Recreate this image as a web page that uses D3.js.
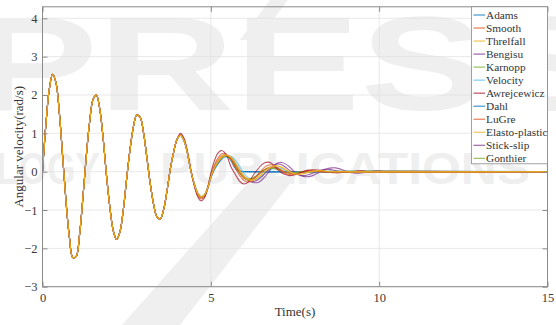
<!DOCTYPE html>
<html><head><meta charset="utf-8">
<script src="https://cdn.jsdelivr.net/npm/d3@7"></script>
<style>body{margin:0;background:#fff}svg{display:block}</style>
</head><body>
<svg id="chart" width="556" height="325"></svg>
<script>
// ---------- DATA ----------
const seriesNames = ["Adams","Smooth","Threlfall","Bengisu","Karnopp","Velocity","Awrejcewicz","Dahl","LuGre","Elasto-plastic","Stick-slip","Gonthier"];
const seriesColors = ["#0072BD","#D95319","#EDB120","#7E2F8E","#77AC30","#4DBEEE","#A2142F","#0072BD","#D95319","#EDB120","#7E2F8E","#77AC30"];
const xTicks = [0,5,10,15];
const yTicks = [-3,-2,-1,0,1,2,3,4];
const sampleStep = 0.1;   // seconds between samples
const tEnd = 15;
// shared part t = 0 .. 4.0 s (all models coincide)
const common = [0,1.22,2.14,2.54,2.32,1.54,0.38,-0.79,-1.72,-2.24,-2.21,-1.65,-0.68,0.40,1.30,1.88,2.00,1.64,0.88,-0.09,-0.92,-1.53,-1.77,-1.57,-1.00,-0.18,0.58,1.17,1.48,1.42,1.02,0.37,-0.31,-0.85,-1.18,-1.23,-0.98,-0.49,0.09,0.53,0.85];
// per-model continuation from t = 4.1 s
const adams = [0.95,0.82,0.50,0.05,-0.30,-0.55,-0.66,-0.62,-0.45,-0.15,0.06,0.20,0.32,0.40,0.42,0.38,0.24,0.08,0.01,0];
const smooth = [0.95,0.83,0.51,0.06,-0.31,-0.57,-0.68,-0.64,-0.44,-0.12,0.12,0.28,0.39,0.44,0.42,0.33,0.19,0.04,-0.09,-0.18,-0.22,-0.21,-0.16,-0.09,-0.01,0.06,0.10,0.12,0.11,0.08,0.04,0.00,-0.03,-0.05,-0.05,-0.04,-0.02,0.00,0.01,0.02,0.02,0.01,0];
const threlfall = [0.95,0.82,0.50,0.05,-0.30,-0.55,-0.66,-0.62,-0.44,-0.14,0.08,0.23,0.34,0.40,0.42,0.38,0.27,0.13,-0.01,-0.12,-0.18,-0.21,-0.20,-0.15,-0.08,0.00,0.07,0.12,0.15,0.15,0.12,0.07,0.02,-0.02,-0.05,-0.06,-0.06,-0.04,-0.02,0.00,0.01,0.02,0.02,0.01,0];
const bengisu = [0.95,0.82,0.50,0.04,-0.31,-0.56,-0.67,-0.63,-0.45,-0.15,0.07,0.22,0.33,0.40,0.41,0.36,0.25,0.11,-0.03,-0.14,-0.22,-0.27,-0.29,-0.28,-0.23,-0.14,-0.03,0.09,0.18,0.23,0.24,0.21,0.15,0.07,-0.01,-0.07,-0.11,-0.13,-0.13,-0.11,-0.07,-0.03,0.02,0.06,0.09,0.10,0.10,0.08,0.05,0.02,-0.01,-0.03,-0.04,-0.04,-0.03,-0.01,0.00,0.01,0.02,0.02,0.01,0];
const karnopp = [0.94,0.81,0.49,0.05,-0.30,-0.54,-0.65,-0.61,-0.43,-0.13,0.09,0.24,0.34,0.40,0.39,0.31,0.18,0.04,-0.08,-0.16,-0.19,-0.18,-0.13,-0.07,0.00,0.05,0.08,0.09,0.08,0.05,0.02,-0.01,-0.03,-0.03,-0.02,-0.01,0];
const velocity = [0.95,0.82,0.50,0.06,-0.29,-0.54,-0.66,-0.63,-0.46,-0.17,0.04,0.18,0.30,0.38,0.41,0.40,0.33,0.21,0.07,-0.06,-0.15,-0.20,-0.21,-0.18,-0.12,-0.05,0.02,0.07,0.10,0.10,0.08,0.04,0.00,-0.03,-0.04,-0.04,-0.02,0];
const awrejcewicz = [1.00,0.88,0.55,0.08,-0.34,-0.63,-0.76,-0.70,-0.43,-0.04,0.27,0.47,0.55,0.51,0.36,0.12,-0.03,-0.18,-0.29,-0.32,-0.28,-0.17,-0.04,0.07,0.17,0.23,0.25,0.22,0.14,0.04,-0.03,-0.07,-0.10,-0.10,-0.08,-0.05,-0.01,0.02,0.04,0.05,0.05,0.04,0.02,0.00,-0.01,-0.02,-0.03,-0.03,-0.02,-0.02,-0.01,0.00,0.01,0.02,0.02,0.01,0];
const dahl = [0.95,0.82,0.50,0.06,-0.29,-0.54,-0.66,-0.63,-0.45,-0.16,0.05,0.19,0.31,0.38,0.38,0.28,0.12,0.02,0.00,0];
const lugre = [0.97,0.85,0.53,0.07,-0.32,-0.59,-0.71,-0.67,-0.46,-0.11,0.16,0.34,0.45,0.48,0.43,0.31,0.15,-0.02,-0.15,-0.24,-0.27,-0.25,-0.18,-0.08,0.03,0.12,0.17,0.18,0.15,0.09,0.02,-0.04,-0.07,-0.08,-0.07,-0.04,-0.01,0.02,0.03,0.03,0.02,0.00,-0.01,-0.01,0];
const elastoPlastic = [0.95,0.82,0.50,0.05,-0.30,-0.55,-0.66,-0.62,-0.44,-0.14,0.10,0.26,0.37,0.43,0.43,0.37,0.25,0.10,-0.04,-0.15,-0.22,-0.24,-0.22,-0.16,-0.08,0.01,0.08,0.13,0.15,0.14,0.11,0.06,0.01,-0.03,-0.06,-0.07,-0.06,-0.04,-0.01,0.01,0.03,0.03,0.03,0.02,0.00,0];
const stickSlip = [0.95,0.82,0.50,0.05,-0.30,-0.55,-0.66,-0.62,-0.44,-0.14,0.09,0.24,0.35,0.41,0.40,0.33,0.21,0.07,-0.06,-0.16,-0.22,-0.25,-0.25,-0.21,-0.14,-0.05,0.04,0.12,0.18,0.20,0.18,0.13,0.06,0.00,-0.05,-0.08,-0.10,-0.10,-0.08,-0.05,-0.01,0.02,0.05,0.06,0.06,0.05,0.03,0.01,-0.01,-0.02,-0.02,-0.01,0];
const gonthier = [0.95,0.82,0.50,0.05,-0.30,-0.55,-0.66,-0.62,-0.44,-0.14,0.09,0.24,0.35,0.41,0.41,0.34,0.21,0.06,-0.07,-0.17,-0.21,-0.20,-0.15,-0.08,-0.01,0.05,0.09,0.10,0.09,0.06,0.02,-0.01,-0.03,-0.04,-0.03,-0.01,0];
const seriesTails = [adams,smooth,threlfall,bengisu,karnopp,velocity,awrejcewicz,dahl,lugre,elastoPlastic,stickSlip,gonthier];
const drawOrder = [0,7,5,3,10,4,11,1,8,6,2,9];

// ---------- LAYOUT ----------
const svg = d3.select("#chart");
const L = 42.5, R = 547.5, T = 6.8, B = 286.7;
const x = d3.scaleLinear().domain([0,15]).range([L,R]);
const y = d3.scaleLinear().domain([-3,4.3]).range([B,T]);
const serif = '"Liberation Serif","Times New Roman",serif';

// watermark (faint, as in the reference)
const wm = svg.append("g").attr("fill","#efefef").style("font-family",'"Liberation Sans",Arial,sans-serif').style("font-weight","bold");
wm.append("text").attr("x",-28).attr("y",110).attr("textLength",640).attr("lengthAdjust","spacingAndGlyphs").style("font-size","134px").text("PRESS");
wm.append("text").attr("x",-4).attr("y",184).attr("textLength",104).attr("lengthAdjust","spacingAndGlyphs").style("font-size","44px").text("LOGY");
wm.append("text").attr("x",160).attr("y",184).attr("textLength",370).attr("lengthAdjust","spacingAndGlyphs").style("font-size","44px").text("PUBLICATIONS");
wm.append("path").attr("d","M122,325 L180,325 L296,176 L254,176 Z");
wm.append("path").attr("d","M240,40 L258,40 L288,0 L270,0 Z");

// grid
const g = svg.append("g");
g.selectAll(".gx").data(xTicks).join("line").attr("x1",d=>x(d)).attr("x2",d=>x(d)).attr("y1",T).attr("y2",B).attr("stroke","#e2e2e2").attr("stroke-width",0.8);
g.selectAll(".gy").data(yTicks).join("line").attr("y1",d=>y(d)).attr("y2",d=>y(d)).attr("x1",L).attr("x2",R).attr("stroke","#e2e2e2").attr("stroke-width",0.8);

// lines
const line = d3.line().x(d=>x(d[0])).y(d=>y(d[1])).curve(d3.curveCatmullRom.alpha(0.5));
const plot = svg.append("g");
drawOrder.forEach(i=>{
  const pts = common.map((v,k)=>[k*sampleStep, v]);
  seriesTails[i].forEach((v,k)=>pts.push([(common.length+k)*sampleStep, v]));
  pts.push([tEnd, 0]);
  plot.append("path").datum(pts).attr("d",line).attr("fill","none")
    .attr("stroke",seriesColors[i]).attr("stroke-opacity",0.75).attr("stroke-width",1.1);
});

// axes
const axisColor = "#8a8a8a";
function styleAxis(sel, labels){
  sel.attr("font-family",null).attr("font-size",null);
  sel.select(".domain").remove();
  sel.selectAll(".tick line").attr("stroke",axisColor);
  sel.selectAll(".tick text").attr("fill","#3a3a3a").style("font-family",serif).style("font-size","12.5px");
  if(!labels) sel.selectAll(".tick text").remove();
}
svg.append("g").attr("transform",`translate(0,${B})`).call(d3.axisBottom(x).tickValues(xTicks).tickSize(-5).tickPadding(6)).call(s=>styleAxis(s,true));
svg.append("g").attr("transform",`translate(0,${T})`).call(d3.axisTop(x).tickValues(xTicks).tickSize(-5)).call(s=>styleAxis(s,false));
svg.append("g").attr("transform",`translate(${L},0)`).call(d3.axisLeft(y).tickValues(yTicks).tickSize(-5).tickPadding(5)).call(s=>styleAxis(s,true));
svg.append("g").attr("transform",`translate(${R},0)`).call(d3.axisRight(y).tickValues(yTicks).tickSize(-5)).call(s=>styleAxis(s,false));
svg.append("rect").attr("x",L).attr("y",T).attr("width",R-L).attr("height",B-T).attr("fill","none").attr("stroke",axisColor).attr("stroke-width",1);

// axis titles
svg.append("text").attr("x",(L+R)/2).attr("y",316).attr("text-anchor","middle").style("font-family",serif).style("font-size","13px").attr("fill","#333").text("Time(s)");
svg.append("text").attr("transform",`translate(23,${y(0.65)}) rotate(-90)`).attr("text-anchor","middle").style("font-family",serif).style("font-size","13px").attr("fill","#333").text("Angular velocity(rad/s)");

// legend
const lg = svg.append("g");
const lgX = 471.5, lgTop = T, lgRow = 13.03;
lg.append("rect").attr("x",lgX).attr("y",lgTop).attr("width",R-lgX).attr("height",157).attr("fill","#fff").attr("stroke",axisColor).attr("stroke-width",0.8);
seriesNames.forEach((n,i)=>{
  const yy = 15 + i*lgRow;
  lg.append("line").attr("x1",473.5).attr("x2",485).attr("y1",yy).attr("y2",yy).attr("stroke",seriesColors[i]).attr("stroke-opacity",0.75).attr("stroke-width",1.2);
  lg.append("text").attr("x",486).attr("y",yy).attr("dy","0.35em").style("font-family",serif).style("font-size","11.3px").attr("fill","#333").text(n);
});
</script>
</body></html>
